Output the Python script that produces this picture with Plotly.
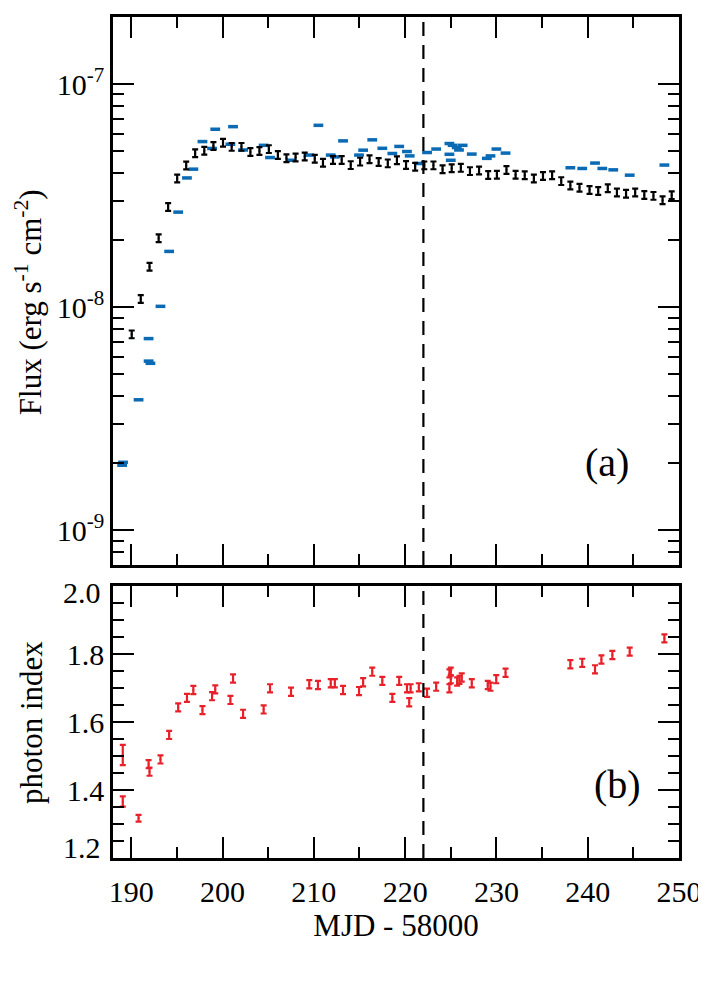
import plotly.graph_objects as go
import math

# ---------------- data ----------------
# Black: flux, daily bins (erg s^-1 cm^-2)
flux_day_mjd = [190.05, 191.04, 192.0, 193.0, 194.04, 195.03, 196.02, 197.0, 198.0, 199.0,
                200.05, 201.0, 202.07, 203.05, 204.04, 205.07, 206.06, 207.0, 208.0, 209.0,
                210.1, 211.0, 212.1, 213.05, 214.04, 215.07, 216.1, 217.1, 218.1, 219.1,
                220.1, 221.1, 222.1, 223.1, 224.1, 225.1, 226.1, 227.1, 228.1, 229.1,
                230.05, 231.1, 232.1, 233.1, 234.1, 235.1, 236.1, 237.1, 238.1, 239.1,
                240.2, 241.15, 242.2, 243.2, 244.2, 245.2, 246.2, 247.2, 248.2, 249.2]
flux_day_e8 = [0.757, 1.09, 1.52, 2.04, 2.82, 3.78, 4.32, 4.91, 5.03, 5.29,
               5.47, 5.24, 5.24, 4.97, 5.02, 5.12, 4.82, 4.66, 4.70, 4.74,
               4.64, 4.45, 4.58, 4.58, 4.34, 4.50, 4.61, 4.48, 4.42, 4.56,
               4.35, 4.27, 4.33, 4.33, 4.16, 4.20, 4.22, 4.08, 4.11, 3.92,
               3.93, 4.13, 3.93, 3.91, 3.78, 3.88, 3.91, 3.68, 3.52, 3.44,
               3.36, 3.32, 3.42, 3.27, 3.23, 3.27, 3.19, 3.16, 3.02, 3.18]
flux_day_relerr = 0.04

# Blue: flux, pointed observations (erg s^-1 cm^-2)
flux_obs_mjd = [189.0, 189.1, 190.8, 191.9, 191.9, 192.1, 193.2, 194.15, 195.14, 196.1,
                196.8, 197.8, 198.85, 199.2, 200.86, 201.15, 202.25, 204.5, 205.2, 207.5,
                209.5, 210.5, 211.85, 212.3, 213.2, 214.95, 215.4, 216.4, 217.5, 218.6,
                219.35, 220.2, 220.5, 221.5, 222.4, 223.4, 224.85, 225.2, 224.85, 225.0,
                225.65, 225.9, 226.3, 227.3, 228.95, 229.35, 230.0, 231.0, 238.1, 239.4,
                240.8, 241.6, 242.8, 244.6, 248.4]
flux_obs_e8 = [0.196, 0.202, 0.385, 0.724, 0.574, 0.561, 1.01, 1.78, 2.67, 3.80,
               4.16, 5.53, 5.15, 6.28, 5.38, 6.45, 5.07, 5.32, 4.69, 4.56,
               4.81, 6.54, 4.81, 4.72, 5.57, 4.81, 5.06, 5.63, 5.16, 4.89,
               5.26, 4.99, 4.77, 4.41, 4.94, 5.12, 5.42, 5.32, 4.85, 4.56,
               5.20, 5.07, 5.32, 4.86, 4.65, 4.77, 5.12, 4.91, 4.22, 4.19,
               4.43, 4.19, 4.13, 3.91, 4.34]

# Red: photon index
index_mjd = [189.07, 189.07, 190.8, 191.9, 192.0, 193.2, 194.15, 195.14, 196.1, 196.8,
             197.8, 198.85, 199.2, 200.86, 201.15, 202.25, 204.5, 205.2, 207.5, 209.5,
             210.45, 211.85, 212.3, 213.2, 214.95, 215.4, 216.4, 217.5, 218.6, 219.35,
             220.2, 220.45, 220.6, 221.5, 222.4, 223.4, 224.85, 225.0, 224.85, 225.0,
             225.7, 225.95, 226.2, 227.3, 229.05, 229.35, 229.98, 231.0, 238.1, 239.4,
             240.8, 241.5, 242.7, 244.6, 248.4]
index_val = [1.503, 1.366, 1.317, 1.476, 1.454, 1.490, 1.562, 1.643, 1.671, 1.694,
             1.635, 1.676, 1.696, 1.665, 1.728, 1.624, 1.637, 1.699, 1.689, 1.711,
             1.709, 1.714, 1.714, 1.694, 1.691, 1.717, 1.748, 1.721, 1.671, 1.721,
             1.699, 1.658, 1.699, 1.702, 1.686, 1.704, 1.743, 1.748, 1.699, 1.726,
             1.719, 1.724, 1.731, 1.714, 1.709, 1.704, 1.726, 1.745, 1.770, 1.774,
             1.755, 1.784, 1.797, 1.807, 1.846]
index_err = [0.030, 0.015, 0.010] + [0.012] * (len(index_val) - 3)

event_mjd = 222.0
x_range = [188, 250]
flux_range = [7e-10, 2e-7]
flux_tickvals = [1e-9, 1e-8, 1e-7]
flux_ticktext = ["10<sup>-9</sup>", "10<sup>-8</sup>", "10<sup>-7</sup>"]
index_range = [1.2, 2.0]
index_tickvals = [1.2, 1.4, 1.6, 1.8, 2.0]
index_ticktext = ["", "1.4", "1.6", "1.8", ""]   # end labels drawn nudged inward below
index_end_labels = ["1.2", "2.0"]

# ---------------- figure ----------------
FONT = "Liberation Serif"
BLACK = "#000000"
BLUE = "#0a6ab4"
RED = "#e8202a"
TICK_SIZE = 30
TITLE_SIZE = 31

fig = go.Figure()

fig.add_trace(go.Scatter(
    x=flux_obs_mjd, y=[v * 1e-8 for v in flux_obs_e8], mode="markers",
    marker=dict(symbol="line-ew", size=7, line=dict(width=3.5, color=BLUE), color=BLUE),
    xaxis="x", yaxis="y", showlegend=False))

fig.add_trace(go.Scatter(
    x=flux_day_mjd, y=[v * 1e-8 for v in flux_day_e8], mode="markers",
    marker=dict(size=2, color=BLACK),
    error_y=dict(type="data", array=[v * 1e-8 * flux_day_relerr for v in flux_day_e8],
                 color=BLACK, thickness=2.2, width=3),
    xaxis="x", yaxis="y", showlegend=False))

fig.add_trace(go.Scatter(
    x=index_mjd, y=index_val, mode="markers",
    marker=dict(size=2, color=RED),
    error_y=dict(type="data", array=index_err, color=RED, thickness=2.2, width=3),
    xaxis="x2", yaxis="y2", showlegend=False))

axis_common = dict(showline=True, linecolor=BLACK, linewidth=2.5, mirror="allticks",
                   ticks="inside", tickcolor=BLACK, tickwidth=2, showgrid=False,
                   zeroline=False, automargin=False,
                   tickfont=dict(family=FONT, size=TICK_SIZE, color=BLACK))

# page body has an 8px default margin -> margins are reduced by 8px
fig.update_layout(
    width=706, height=988,
    margin=dict(l=105, r=35, t=9, b=138),
    paper_bgcolor="white", plot_bgcolor="white",
    font=dict(family=FONT, color=BLACK),
    xaxis=dict(axis_common, domain=[0, 1], range=x_range, anchor="y",
               dtick=10, tick0=190, ticklen=21, showticklabels=False,
               minor=dict(ticks="inside", dtick=5, tick0=190, ticklen=11,
                          tickwidth=2, tickcolor=BLACK)),
    yaxis=dict(axis_common, domain=[0.3484, 1], type="log",
               range=[math.log10(flux_range[0]), math.log10(flux_range[1])],
               anchor="x", tickmode="array", tickvals=flux_tickvals,
               ticktext=flux_ticktext, ticklen=21, ticklabelstandoff=0,
               minor=dict(ticks="inside", dtick="D1", ticklen=11,
                          tickwidth=2, tickcolor=BLACK)),
    xaxis2=dict(axis_common, domain=[0, 1], range=x_range, anchor="y2",
                dtick=10, tick0=190, ticklen=21, ticklabelstandoff=5,
                minor=dict(ticks="inside", dtick=5, tick0=190, ticklen=11,
                           tickwidth=2, tickcolor=BLACK),
                title=dict(text="MJD - 58000",
                           font=dict(family=FONT, size=TITLE_SIZE, color=BLACK), standoff=3)),
    yaxis2=dict(axis_common, domain=[0, 0.3234], range=index_range, anchor="x2",
                tickmode="array", tickvals=index_tickvals, ticktext=index_ticktext,
                ticklen=21, ticklabelstandoff=0,
                minor=dict(ticks="inside", dtick=0.05, tick0=1.2, ticklen=11,
                           tickwidth=2, tickcolor=BLACK)),
)

for yref in ["y domain", "y2 domain"]:
    fig.add_shape(type="line", xref="x", yref=yref, x0=event_mjd, x1=event_mjd,
                  y0=0, y1=1, line=dict(color=BLACK, width=2.2, dash="14px,9px"))

# end tick labels of the photon-index axis, nudged inside the frame
fig.add_annotation(text=index_end_labels[0], xref="paper", yref="y2 domain",
                   x=-0.017, y=0.04, xanchor="right", yanchor="middle", showarrow=False,
                   font=dict(family=FONT, size=TICK_SIZE, color=BLACK))
fig.add_annotation(text=index_end_labels[1], xref="paper", yref="y2 domain",
                   x=-0.017, y=0.975, xanchor="right", yanchor="middle", showarrow=False,
                   font=dict(family=FONT, size=TICK_SIZE, color=BLACK))

# y-axis titles
fig.add_annotation(text="Flux (erg s<sup>-1</sup> cm<sup>-2</sup>)", xref="paper", yref="paper",
                   x=-0.150, y=0.661, xanchor="center", yanchor="middle", textangle=-90,
                   borderpad=0, showarrow=False,
                   font=dict(family=FONT, size=TITLE_SIZE, color=BLACK))
fig.add_annotation(text="photon index", xref="paper", yref="paper",
                   x=-0.145, y=0.1617, xanchor="center", yanchor="middle", textangle=-90,
                   borderpad=0, showarrow=False,
                   font=dict(family=FONT, size=TITLE_SIZE, color=BLACK))

# panel labels
fig.add_annotation(text="(a)", xref="paper", yref="paper", x=0.873, y=0.470,
                   xanchor="center", yanchor="middle",
                   showarrow=False, font=dict(family=FONT, size=40, color=BLACK))
fig.add_annotation(text="(b)", xref="paper", yref="paper", x=0.892, y=0.087,
                   xanchor="center", yanchor="middle",
                   showarrow=False, font=dict(family=FONT, size=40, color=BLACK))

fig.write_html("out.html")
